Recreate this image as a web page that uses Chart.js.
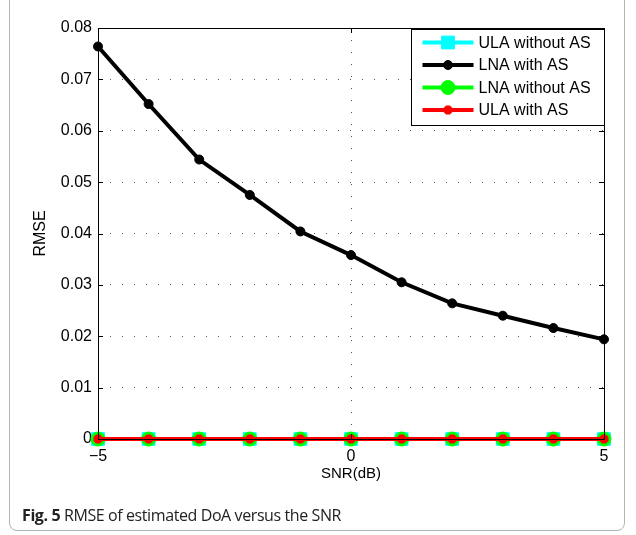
<!DOCTYPE html>
<html>
<head>
<meta charset="utf-8">
<script src="https://cdn.jsdelivr.net/npm/chart.js@4.4.0/dist/chart.umd.min.js"></script>
<style>
  html, body { margin: 0; padding: 0; background: #fff; }
  #wrap { position: relative; width: 636px; height: 535px; overflow: hidden; }
  #frame {
    position: absolute; left: 9px; top: -12px; width: 616px; height: 543px;
    border: 1px solid #b4b4b4; border-radius: 8px; box-sizing: border-box;
  }
  #chart { position: absolute; left: 0; top: 0; }
  #caption {
    position: absolute; left: 22px; top: 504px;
    font-family: "Open Sans", "Noto Sans", sans-serif; font-size: 16px;
    color: #222; letter-spacing: -0.4px;
  }
  #caption b { font-weight: 700; }
</style>
</head>
<body>
<div id="wrap">
  <div id="frame"></div>
  <canvas id="chart" width="636" height="535"></canvas>
  <div id="caption"><b>Fig. 5</b> RMSE of estimated DoA versus the SNR</div>
</div>
<script>
// 数据
const snr = [-5, -4, -3, -2, -1, 0, 1, 2, 3, 4, 5];
const ulaWithoutAS = [0, 0, 0, 0, 0, 0, 0, 0, 0, 0, 0];
const lnaWithAS = [0.0764, 0.0652, 0.0544, 0.0475, 0.0404, 0.0358, 0.0305, 0.0264, 0.0240, 0.0216, 0.0194];
const lnaWithoutAS = [0, 0, 0, 0, 0, 0, 0, 0, 0, 0, 0];
const ulaWithAS = [0, 0, 0, 0, 0, 0, 0, 0, 0, 0, 0];
const seriesNames = ['ULA without AS', 'LNA with AS', 'LNA without AS', 'ULA with AS'];
const yTicks = [0, 0.01, 0.02, 0.03, 0.04, 0.05, 0.06, 0.07, 0.08];
const xTicks = [-5, 0, 5];

const FONT = 'Liberation Sans, Arial, Helvetica, sans-serif';

function toPoints(ys) {
  return snr.map((x, i) => ({ x: x, y: ys[i] }));
}

// 坐标框与内向刻度
const boxPlugin = {
  id: 'box',
  afterDraw(chart) {
    const { ctx, chartArea: a, scales } = chart;
    ctx.save();
    ctx.strokeStyle = '#000';
    ctx.lineWidth = 1;
    ctx.beginPath();
    ctx.rect(Math.round(a.left) + 0.5, Math.round(a.top) + 0.5,
      Math.round(a.right - a.left), Math.round(a.bottom - a.top));
    ctx.stroke();
    ctx.beginPath();
    yTicks.forEach(v => {
      const y = Math.round(scales.y.getPixelForValue(v)) + 0.5;
      ctx.moveTo(a.left, y); ctx.lineTo(a.left + 5, y);
      ctx.moveTo(a.right, y); ctx.lineTo(a.right - 5, y);
    });
    xTicks.forEach(v => {
      const x = Math.round(scales.x.getPixelForValue(v)) + 0.5;
      ctx.moveTo(x, a.bottom); ctx.lineTo(x, a.bottom - 5);
      ctx.moveTo(x, a.top); ctx.lineTo(x, a.top + 5);
    });
    ctx.stroke();
    ctx.restore();
  }
};

// 图例（画在绘图区内右上角）
const legendPlugin = {
  id: 'innerLegend',
  afterDraw(chart) {
    const { ctx, chartArea: a } = chart;
    const w = 193, h = 96;
    const x0 = Math.round(a.right - w) + 0.5, y0 = Math.round(a.top) + 1.5;
    ctx.save();
    ctx.fillStyle = '#fff';
    ctx.fillRect(x0, y0, w, h);
    ctx.strokeStyle = '#000';
    ctx.lineWidth = 1;
    ctx.strokeRect(x0, y0, w, h);
    chart.data.datasets.forEach((ds, i) => {
      const y = y0 + 13 + i * 22.5;
      const lx1 = x0 + 11, lx2 = x0 + 62;
      ctx.strokeStyle = ds.borderColor;
      ctx.lineWidth = ds.borderWidth;
      ctx.beginPath();
      ctx.moveTo(lx1, y); ctx.lineTo(lx2, y);
      ctx.stroke();
      // 先设好颜色再画点
      ctx.fillStyle = ds.pointBackgroundColor;
      ctx.strokeStyle = ds.pointBorderColor;
      ctx.lineWidth = ds.pointBorderWidth;
      Chart.helpers.drawPoint(ctx, {
        pointStyle: ds.pointStyle,
        radius: ds.pointRadius,
        borderWidth: ds.pointBorderWidth,
        rotation: 0
      }, (lx1 + lx2) / 2, y);
      ctx.fillStyle = '#000';
      ctx.font = '16px ' + FONT;
      ctx.textBaseline = 'middle';
      ctx.textAlign = 'left';
      ctx.fillText(ds.label, x0 + 67, y + 1);
    });
    ctx.restore();
  }
};

function makeDataset(label, ys, color, style, radius, order) {
  return {
    label: label,
    data: toPoints(ys),
    borderColor: color,
    backgroundColor: color,
    borderWidth: 4,
    pointStyle: style,
    pointRadius: radius,
    pointHoverRadius: radius,
    pointBackgroundColor: color,
    pointBorderColor: color,
    pointBorderWidth: style === 'star' ? 3.5 : 1,
    tension: 0,
    clip: false,
    order: order
  };
}

const chart = new Chart(document.getElementById('chart'), {
  type: 'line',
  data: {
    datasets: [
      makeDataset(seriesNames[0], ulaWithoutAS, '#00ffff', 'rect', 9, 3),
      makeDataset(seriesNames[1], lnaWithAS, '#000000', 'circle', 4.5, 2),
      makeDataset(seriesNames[2], lnaWithoutAS, '#00ff00', 'circle', 7, 1),
      makeDataset(seriesNames[3], ulaWithAS, '#ff0000', 'star', 4.5, 0)
    ]
  },
  options: {
    responsive: false,
    animation: false,
    layout: { padding: { left: 31, right: 32, top: 28, bottom: 52 } },
    plugins: {
      legend: { display: false },
      tooltip: { enabled: false }
    },
    scales: {
      x: {
        type: 'linear',
        min: -5,
        max: 5,
        afterFit: (s) => { s.height = 44; },
        afterBuildTicks: (s) => { s.ticks = xTicks.map(v => ({ value: v })); },
        ticks: {
          padding: 8,
          color: '#000',
          font: { family: FONT, size: 16 },
          callback: (v) => v < 0 ? '\u2212' + Math.abs(v) : String(v)
        },
        grid: {
          drawTicks: false,
          color: (c) => c.tick && c.tick.value === 0 ? '#555' : 'rgba(0,0,0,0)',
          lineWidth: 1
        },
        border: { display: false, dash: [1, 11] },
        title: {
          display: true,
          text: 'SNR(dB)',
          color: '#000',
          font: { family: FONT, size: 15 },
          padding: 0
        }
      },
      y: {
        min: 0,
        max: 0.08,
        afterFit: (s) => { s.width = 67; },
        afterBuildTicks: (s) => { s.ticks = yTicks.map(v => ({ value: v })); },
        ticks: {
          padding: 6,
          color: '#000',
          font: { family: FONT, size: 16 },
          callback: (v) => v === 0 ? '0' : v.toFixed(2)
        },
        grid: {
          drawTicks: false,
          color: (c) => c.tick && c.tick.value > 0 && c.tick.value < 0.08 ? '#555' : 'rgba(0,0,0,0)',
          lineWidth: 1
        },
        border: { display: false, dash: [1, 11] },
        title: {
          display: true,
          text: 'RMSE',
          color: '#000',
          font: { family: FONT, size: 16 },
          padding: 0
        }
      }
    }
  },
  plugins: [boxPlugin, legendPlugin]
});
</script>
</body>
</html>
